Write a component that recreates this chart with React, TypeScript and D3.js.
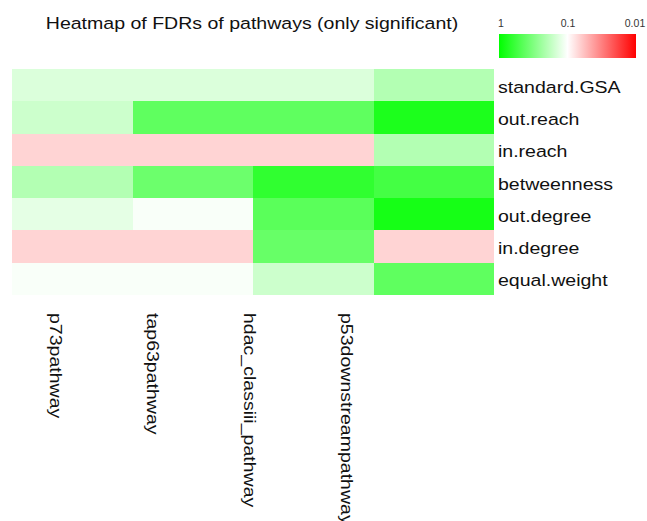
import React from 'react';
import * as d3 from 'd3';

// pathways (columns) and weighting methods (rows)
const pathways = ['p73pathway', 'tap63pathway', 'hdac_classiii_pathway', 'p53downstreampathway'];
const methods = ['standard.GSA', 'out.reach', 'in.reach', 'betweenness', 'out.degree', 'in.degree', 'equal.weight'];

// FDR values, one array per method, in pathway order
const standardGSA = [0.138, 0.138, 0.138, 0.199];
const outReach = [0.158, 0.424, 0.424, 0.776];
const inReach = [0.068, 0.068, 0.068, 0.199];
const betweenness = [0.199, 0.377, 0.648, 0.541];
const outDegree = [0.126, 0.106, 0.444, 0.82];
const inDegree = [0.068, 0.068, 0.395, 0.068];
const equalWeight = [0.106, 0.106, 0.158, 0.424];

const fdrRows = [standardGSA, outReach, inReach, betweenness, outDegree, inDegree, equalWeight];

const legendTicks = [1, 0.1, 0.01];

const font = "'Liberation Sans', Arial, sans-serif";
const stretch = 1.15; // the original text is a bit wider than Arial

const App = () => {
  const width = 647;
  const height = 521;

  const x = d3.scaleBand<string>().domain(pathways).range([12, 494]);
  const y = d3.scaleBand<string>().domain(methods).range([69, 295]);
  // column labels sit on their own (narrower) band
  const xLab = d3.scaleBand<string>().domain(pathways).range([7, 396]);

  const color = d3
    .scaleLinear<string>()
    .domain([0, -1, -2])
    .range(['#00ff00', '#ffffff', '#ff0000'])
    .interpolate(d3.interpolateRgb);

  const legendX = d3.scaleLinear().domain([0, -2]).range([499, 636]);
  const legendLabX = d3.scaleLinear().domain([0, -2]).range([501, 635]);
  const stops = d3.range(0, 11).map((i) => -2 * (i / 10));

  const cells = fdrRows.flatMap((row, ri) =>
    row.map((v, ci) => ({ method: methods[ri], pathway: pathways[ci], v }))
  );

  return (
    <svg width={width} height={height} style={{ position: 'absolute', left: 0, top: 0 }}>
      <defs>
        <linearGradient id="legendGrad" x1="0" x2="1" y1="0" y2="0">
          {stops.map((s, i) => (
            <stop key={i} offset={`${(i / 10) * 100}%`} stopColor={color(s)} />
          ))}
        </linearGradient>
      </defs>
      <rect width={width} height={height} fill="#fff" />

      <text
        transform={`translate(252,29) scale(${stretch},1)`}
        textAnchor="middle"
        fontFamily={font}
        fontSize={17}
        fill="#111"
      >
        Heatmap of FDRs of pathways (only significant)
      </text>

      {/* legend */}
      <rect
        x={legendX(0)}
        y={34}
        width={legendX(-2) - legendX(0)}
        height={24}
        fill="url(#legendGrad)"
      />
      {legendTicks.map((t) => (
        <text
          key={t}
          x={legendLabX(Math.log10(t))}
          y={27}
          textAnchor="middle"
          fontFamily={font}
          fontSize={10.5}
          fill="#333"
        >
          {t}
        </text>
      ))}

      {/* cells */}
      {cells.map((c, i) => (
        <rect
          key={i}
          x={x(c.pathway)}
          y={y(c.method)}
          width={x.bandwidth()}
          height={y.bandwidth()}
          fill={color(Math.log10(c.v))}
          shapeRendering="crispEdges"
        />
      ))}

      {/* row labels */}
      {methods.map((m) => (
        <text
          key={m}
          transform={`translate(498,${(y(m) ?? 0) + y.bandwidth() / 2 + 7.5}) scale(${stretch},1)`}
          fontFamily={font}
          fontSize={17}
          fill="#111"
        >
          {m}
        </text>
      ))}

      {/* column labels */}
      {pathways.map((p) => {
        const cx = (xLab(p) ?? 0) + xLab.bandwidth() / 2;
        return (
          <text
            key={p}
            transform={`translate(${cx},313) rotate(90) scale(${stretch},1)`}
            dominantBaseline="central"
            fontFamily={font}
            fontSize={17}
            fill="#111"
          >
            {p}
          </text>
        );
      })}
    </svg>
  );
};

export default App;
